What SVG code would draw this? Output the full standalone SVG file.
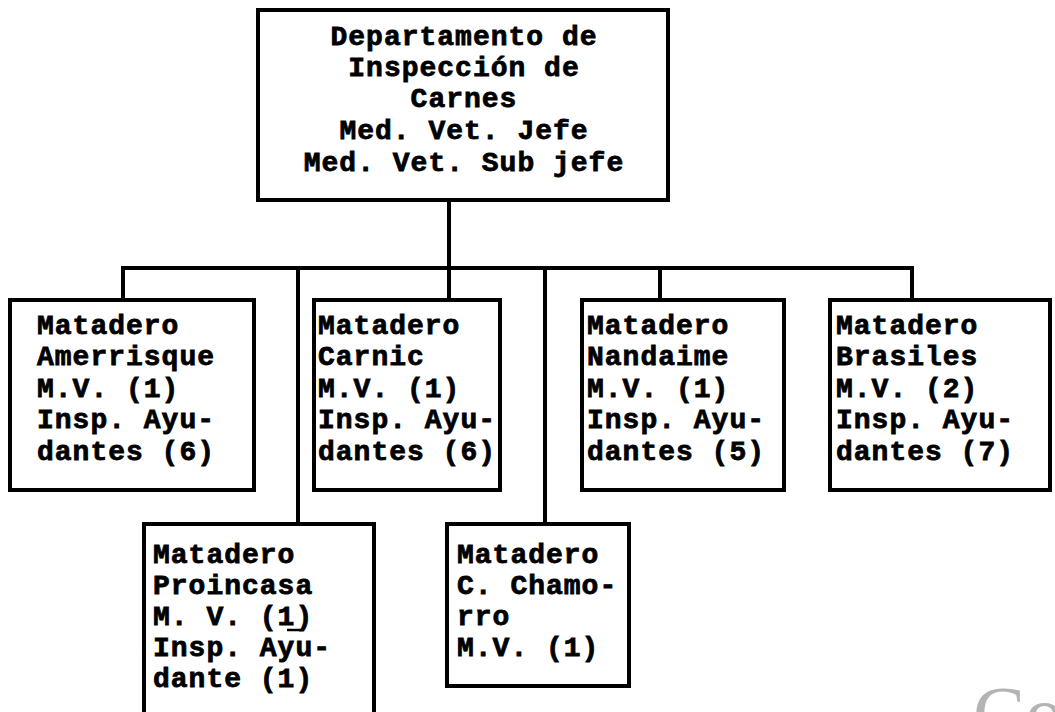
<svg xmlns="http://www.w3.org/2000/svg" width="1055" height="712" viewBox="0 0 1055 712">
<style>
.box{fill:#fff;stroke:#000;stroke-width:4}
.ln{fill:none;stroke:#000;stroke-width:4}
.t{font-family:"Liberation Mono","DejaVu Sans Mono",monospace;font-weight:bold;font-size:28px;letter-spacing:1px;fill:#000;stroke:#000;stroke-width:0.8}
.c{text-anchor:middle}
</style>
<rect width="1055" height="712" fill="#fff"/>
<g id="connectors">
<path class="ln" d="M449,200 V300"/>
<path class="ln" d="M123,300 V268 H912 V300"/>
<path class="ln" d="M660,268 V300"/>
<path class="ln" d="M298,268 V524"/>
<path class="ln" d="M545,268 V524"/>
</g>
<g id="dept">
<rect class="box" x="258" y="10" width="410" height="190"/>
<text class="t c" x="464" y="45">Departamento de</text>
<text class="t c" x="464" y="76">Inspección de</text>
<text class="t c" x="464" y="107">Carnes</text>
<text class="t c" x="464" y="139">Med. Vet. Jefe</text>
<text class="t c" x="464" y="171">Med. Vet. Sub jefe</text>
</g>
<g id="amerrisque">
<rect class="box" x="10" y="300" width="244" height="190"/>
<text class="t" x="37" y="334">Matadero</text>
<text class="t" x="37" y="365">Amerrisque</text>
<text class="t" x="37" y="397">M.V. (1)</text>
<text class="t" x="37" y="428">Insp. Ayu-</text>
<text class="t" x="37" y="460">dantes (6)</text>
</g>
<g id="carnic">
<rect class="box" x="314" y="300" width="186" height="190"/>
<text class="t" x="318" y="334">Matadero</text>
<text class="t" x="318" y="365">Carnic</text>
<text class="t" x="318" y="397">M.V. (1)</text>
<text class="t" x="318" y="428">Insp. Ayu-</text>
<text class="t" x="318" y="460">dantes (6)</text>
</g>
<g id="nandaime">
<rect class="box" x="582" y="300" width="202" height="190"/>
<text class="t" x="587" y="334">Matadero</text>
<text class="t" x="587" y="365">Nandaime</text>
<text class="t" x="587" y="397">M.V. (1)</text>
<text class="t" x="587" y="428">Insp. Ayu-</text>
<text class="t" x="587" y="460">dantes (5)</text>
</g>
<g id="brasiles">
<rect class="box" x="830" y="300" width="220" height="190"/>
<text class="t" x="836" y="334">Matadero</text>
<text class="t" x="836" y="365">Brasiles</text>
<text class="t" x="836" y="397">M.V. (2)</text>
<text class="t" x="836" y="428">Insp. Ayu-</text>
<text class="t" x="836" y="460">dantes (7)</text>
</g>
<g id="proincasa">
<rect class="box" x="144" y="524" width="230" height="200"/>
<text class="t" x="153" y="563">Matadero</text>
<text class="t" x="153" y="594">Proincasa</text>
<text class="t" x="153" y="625">M. V. (1)</text>
<path d="M287,630 H301" stroke="#000" stroke-width="2.5"/>
<text class="t" x="153" y="656">Insp. Ayu-</text>
<text class="t" x="153" y="687">dante (1)</text>
</g>
<g id="chamorro">
<rect class="box" x="447" y="524" width="182" height="162"/>
<text class="t" x="457" y="563">Matadero</text>
<text class="t" x="457" y="594">C. Chamo-</text>
<text class="t" x="457" y="625">rro</text>
<text class="t" x="457" y="656">M.V. (1)</text>
</g>
<text x="973" y="740" font-family="Liberation Serif,serif" font-size="78" fill="#b4b4b4">Co</text>
</svg>
